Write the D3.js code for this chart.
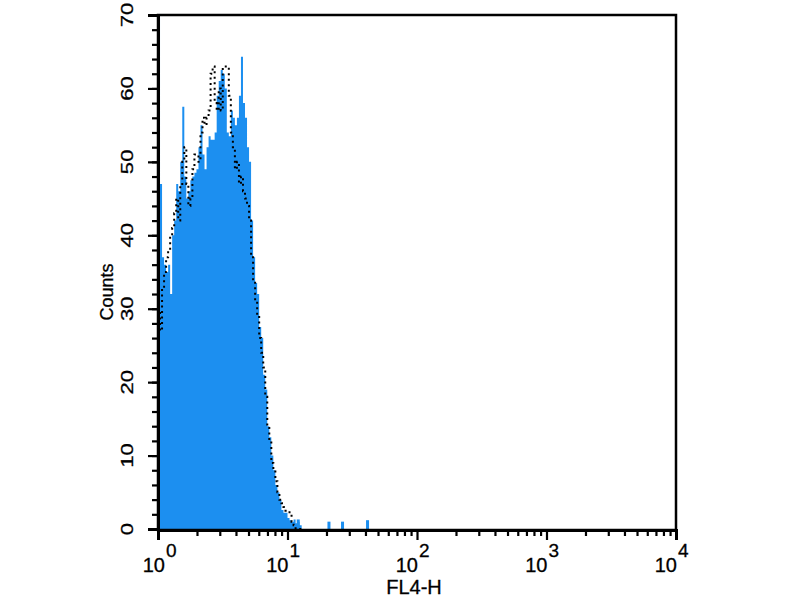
<!DOCTYPE html>
<html>
<head>
<meta charset="utf-8">
<script src="https://cdn.jsdelivr.net/npm/d3@7"></script>
<style>
  html, body { margin: 0; padding: 0; background: #fff; }
  svg text { font-family: "Liberation Sans", Arial, sans-serif; fill: #000; }
</style>
</head>
<body>
<svg id="chart" width="800" height="600"></svg>
<script>
// ---- data ----
// histogram bins: 64 bins per decade starting at FL4-H = 10^0
const binsPerDecade = 64;
const stainedCounts = [
  75, 47, 37, 36, 35, 36, 32, 40, 42, 47,
  46, 50, 57.5, 48, 45, 46, 47.5, 48, 48.5, 49,
  52, 55, 51, 49, 52, 53.5, 53, 53, 54, 59,
  61, 62.5, 62, 60, 54, 53.5, 57, 56, 55, 56,
  59, 64.3, 58, 56, 52, 50, 42, 37, 33.5, 32,
  27.5, 26, 21, 19, 14, 12.5, 10, 8, 6, 5,
  4, 2.6, 2.2, 2.2, 1.5, 1.2, 1, 1.3, 0.8, 1,
  0.5, 0
];
const controlCounts = [
  30, 27, 33, 35, 37, 38, 40, 41, 43, 45,
  42, 47, 50, 52, 47, 44, 45, 49, 51, 51,
  50, 54, 56, 55, 56, 57, 62, 63, 58, 57,
  60, 57, 63, 63, 63, 59, 54, 52, 49, 50,
  47, 48, 46, 45, 44, 42, 37, 34, 31, 29,
  26, 24, 22, 18, 14, 12, 9, 8, 6.5, 5,
  4, 3.5, 3, 2.5, 2.5, 2, 1, 0.5, 0, 0,
  0, 0
];
// sparse events further out (FL4-H value, counts)
const tailValues = [12.1, 20.9, 26.6, 41.5];
const tailCounts = [1.3, 1.0, 1.0, 1.2];

const xTickExponents = [0, 1, 2, 3, 4];
const yTicks = [0, 10, 20, 30, 40, 50, 60, 70];
const xLabel = "FL4-H";
const yLabel = "Counts";

// ---- layout ----
const svg = d3.select("#chart");
const mLeft = 158, mRight = 676, mTop = 15, mBottom = 529;
const x = d3.scaleLog().domain([1, 10000]).range([mLeft, mRight]);
const y = d3.scaleLinear().domain([0, 70]).range([mBottom, mTop]);

const blue = "#1c8ff0";

svg.append("defs").append("clipPath").attr("id", "plotclip")
  .append("rect").attr("x", mLeft).attr("y", mTop).attr("width", mRight - mLeft).attr("height", mBottom - mTop + 1);

const plot = svg.append("g").attr("clip-path", "url(#plotclip)");

function stepData(counts) {
  const pts = [];
  counts.forEach((c, i) => {
    pts.push({ v: Math.pow(10, i / binsPerDecade), c });
  });
  pts.push({ v: Math.pow(10, counts.length / binsPerDecade), c: 0 });
  return pts;
}

const stained = stepData(stainedCounts);
const area = d3.area()
  .x(d => x(d.v)).y0(y(0)).y1(d => y(d.c))
  .curve(d3.curveStepAfter);
plot.append("path").datum(stained).attr("d", area).attr("fill", blue);

// tail spikes
plot.selectAll("rect.tail").data(tailValues).enter().append("rect")
  .attr("class", "tail")
  .attr("x", d => x(d) - 1.5)
  .attr("width", 3)
  .attr("y", (d, i) => y(tailCounts[i]))
  .attr("height", (d, i) => y(0) - y(tailCounts[i]))
  .attr("fill", blue);

// control (dotted outline)
const control = stepData(controlCounts);
const line = d3.line().x(d => x(d.v)).y(d => y(d.c)).curve(d3.curveStepAfter);
plot.append("path").datum([{ v: 1, c: 0 }].concat(control)).attr("d", line)
  .attr("fill", "none").attr("stroke", "#000").attr("stroke-width", 2)
  .attr("stroke-dasharray", "2 3.5");

// ---- frame ----
svg.append("rect").attr("x", mLeft).attr("y", mTop).attr("width", mRight - mLeft).attr("height", mBottom + 1 - mTop)
  .attr("fill", "none").attr("stroke", "#000").attr("stroke-width", 2.5);

// ---- y axis ----
const yMinor = d3.range(0, 71, 2);
const yAxisMinor = d3.axisLeft(y).tickValues(yMinor).tickSize(6).tickFormat("");
const yAxisMajor = d3.axisLeft(y).tickValues(yTicks).tickSize(10).tickFormat("");
[yAxisMinor, yAxisMajor].forEach(ax => {
  const g = svg.append("g").attr("transform", `translate(${mLeft},0)`).call(ax);
  g.select(".domain").attr("stroke", "#000").attr("stroke-width", 3);
  g.selectAll(".tick line").attr("stroke", "#000").attr("stroke-width", 2.2);
});
svg.selectAll("text.ylab").data(yTicks).enter().append("text")
  .attr("class", "ylab")
  .attr("transform", d => `translate(133,${y(d)}) rotate(-90) scale(1.3,1)`)
  .attr("text-anchor", "middle")
  .attr("font-size", 17)
  .attr("stroke", "#000").attr("stroke-width", 0.3)
  .text(d => d);

svg.append("text")
  .attr("transform", `translate(113,292) rotate(-90)`)
  .attr("text-anchor", "middle")
  .attr("font-size", 18)
  .attr("stroke", "#000").attr("stroke-width", 0.3)
  .text(yLabel);

// ---- x axis ----
const xMinor = [];
xTickExponents.slice(0, -1).forEach(e => {
  for (let k = 2; k <= 9; k++) xMinor.push(k * Math.pow(10, e));
});
const xMajor = xTickExponents.map(e => Math.pow(10, e));
const xAxisMinor = d3.axisBottom(x).tickValues(xMinor).tickSize(6).tickFormat("");
const xAxisMajor = d3.axisBottom(x).tickValues(xMajor).tickSize(10).tickFormat("");
[xAxisMinor, xAxisMajor].forEach(ax => {
  const g = svg.append("g").attr("transform", `translate(0,${mBottom + 1})`).call(ax);
  g.select(".domain").attr("stroke", "#000").attr("stroke-width", 3);
  g.selectAll(".tick line").attr("stroke", "#000").attr("stroke-width", 2.2);
});

const xl = svg.selectAll("g.xlab").data(xTickExponents).enter().append("g")
  .attr("class", "xlab")
  .attr("transform", d => `translate(${x(Math.pow(10, d)) + (d === 0 ? 6 : 0)},0)`);
xl.append("text").attr("x", 1).attr("y", 572).attr("text-anchor", "end")
  .attr("font-size", 20).attr("stroke", "#000").attr("stroke-width", 0.3).text("10");
xl.append("text").attr("x", 2).attr("y", 557).attr("text-anchor", "start")
  .attr("font-size", 19).attr("stroke", "#000").attr("stroke-width", 0.3).text(d => d);

svg.append("text").attr("x", 414).attr("y", 594).attr("text-anchor", "middle")
  .attr("font-size", 20).attr("stroke", "#000").attr("stroke-width", 0.3).text(xLabel);
</script>
</body>
</html>
